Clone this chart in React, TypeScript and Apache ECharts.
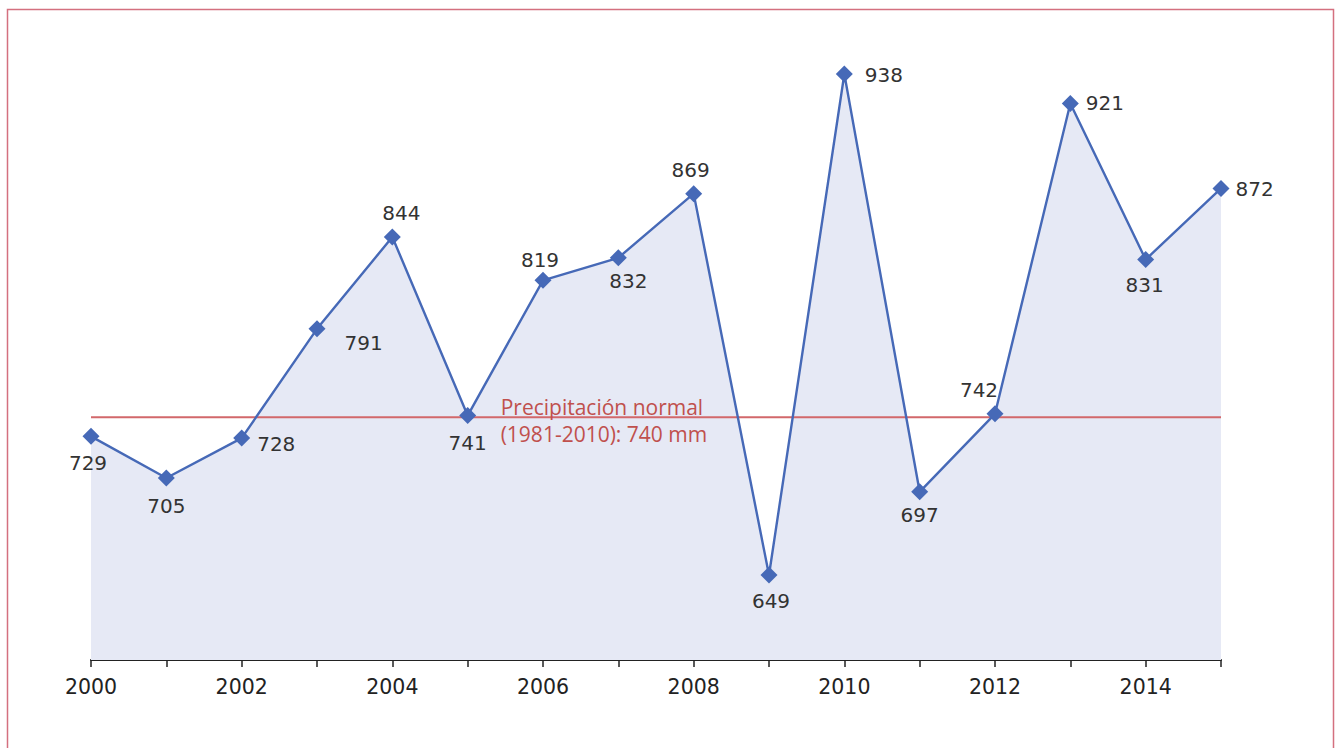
import React, { useEffect, useRef } from "react";
import * as echarts from "echarts";

const YEARS = ["2000","2001","2002","2003","2004","2005","2006","2007","2008","2009","2010","2011","2012","2013","2014","2015"];
const PRECIP = [729, 705, 728, 791, 844, 741, 819, 832, 869, 649, 938, 697, 742, 921, 831, 872];
const NORMAL = [740, 740, 740, 740, 740, 740, 740, 740, 740, 740, 740, 740, 740, 740, 740, 740];
const NORMAL_LABEL = "Precipitación normal\n(1981-2010): 740 mm";
// label placement per point: [position, offsetX, offsetY]
const LABEL_POS: [string, number, number][] = [
  ["bottom", -3, 3], ["bottom", 0, 5], ["right", 2, 6], ["right", 14, 14],
  ["top", 9, 0], ["bottom", 0, 4], ["top", -3, 3], ["bottom", 10, 0],
  ["top", -3, 0], ["bottom", 2, 2], ["right", 7, 1], ["bottom", 0, 0],
  ["top", -16, 0], ["right", 2, 0], ["bottom", -1, 2], ["right", 1, 1],
];

const BLUE = "#4669b7";
const RED = "#d2686b";
const FONT = "DejaVu Sans";

export default function App() {
  const ref = useRef<HTMLDivElement>(null);
  useEffect(() => {
    const chart = echarts.init(ref.current!, null, { renderer: "svg" });
    chart.setOption({
      animation: false,
      backgroundColor: "#ffffff",
      grid: { left: 91, right: 114, top: 53.2, bottom: 88 },
      graphic: [
        {
          type: "rect",
          shape: { x: 7.5, y: 9.5, width: 1326, height: 760 },
          style: { fill: "none", stroke: "#d4707f", lineWidth: 1.5 },
          z: 100,
        },
      ],
      xAxis: {
        type: "category",
        data: YEARS,
        boundaryGap: false,
        axisLine: { lineStyle: { color: "#222", width: 2 } },
        axisTick: { show: true, interval: 0, length: 7, lineStyle: { color: "#222", width: 1.5 } },
        axisLabel: { interval: 1, color: "#222", fontSize: 20.5, fontFamily: FONT, margin: 16 },
        splitLine: { show: false },
      },
      yAxis: {
        type: "value",
        min: 600,
        max: 950,
        show: false,
        splitLine: { show: false },
      },
      series: [
        {
          type: "line",
          data: PRECIP,
          symbol: "none",
          lineStyle: { width: 0 },
          areaStyle: { color: "#e6e9f5", opacity: 1, origin: "start" },
          z: 1,
          silent: true,
        },
        {
          type: "line",
          data: NORMAL,
          symbol: "none",
          lineStyle: { color: RED, width: 2 },
          z: 2,
          silent: true,
          markPoint: {
            symbol: "circle",
            symbolSize: 0,
            data: [
              {
                coord: ["2005", 740],
                label: {
                  show: true,
                  formatter: NORMAL_LABEL,
                  position: "right",
                  distance: 33,
                  offset: [0, 3],
                  align: "left",
                  color: "#c0504d",
                  fontSize: 21,
                  lineHeight: 27,
                  fontFamily: "Open Sans",
                },
              },
            ],
          },
        },
        {
          type: "line",
          data: PRECIP.map((v, i) => ({
            value: v,
            label: {
              show: true,
              position: LABEL_POS[i][0],
              offset: [LABEL_POS[i][1], LABEL_POS[i][2]],
            },
          })),
          symbol: "diamond",
          symbolSize: 17,
          itemStyle: { color: BLUE },
          lineStyle: { color: BLUE, width: 2.4 },
          label: { color: "#333", fontSize: 20, fontFamily: FONT },
          z: 3,
        },
      ],
    });
    return () => chart.dispose();
  }, []);
  return (
    <div
      ref={ref}
      style={{ position: "fixed", left: 0, top: 0, width: 1335, height: 748 }}
    />
  );
}
